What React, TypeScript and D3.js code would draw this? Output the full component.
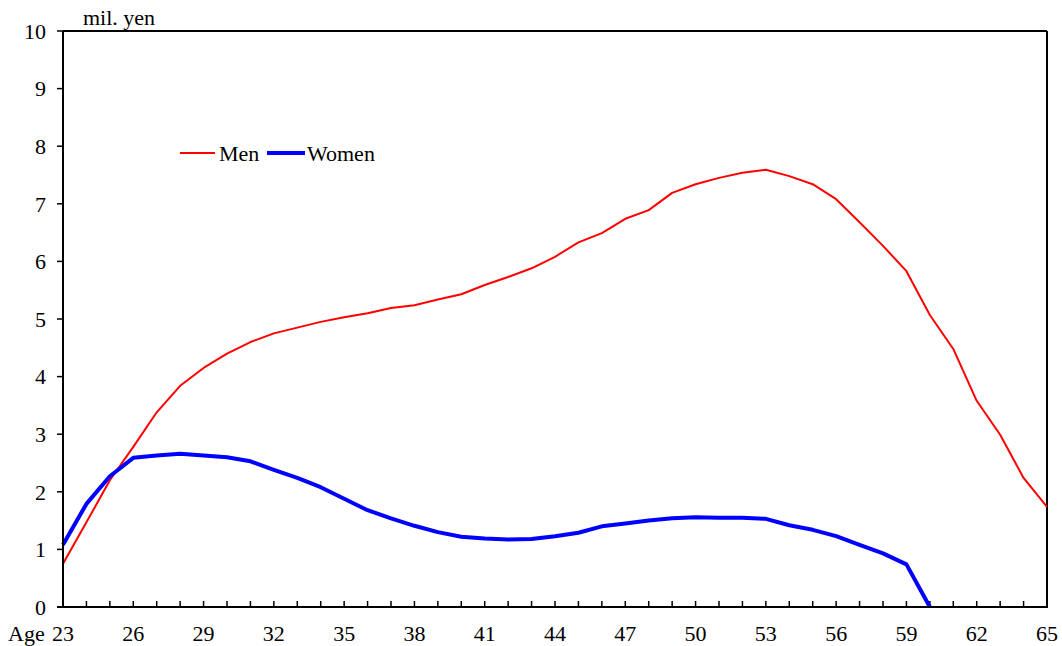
import React from "react";
import * as d3 from "d3";

const ages = d3.range(23, 66);
const menValues = [
  0.75, 1.47, 2.2, 2.78, 3.38, 3.84, 4.15, 4.4, 4.6, 4.75, 4.85, 4.95, 5.03, 5.1, 5.19, 5.24, 5.34, 5.43, 5.59,
  5.73, 5.88, 6.08, 6.33, 6.49, 6.74, 6.89, 7.19, 7.34, 7.45, 7.54, 7.59, 7.48, 7.34, 7.08, 6.68, 6.27, 5.83,
  5.07, 4.48, 3.58, 2.99, 2.24, 1.74,
];
const womenAges = d3.range(23, 61);
const womenValues = [
  1.08, 1.79, 2.27, 2.59, 2.63, 2.66, 2.63, 2.6, 2.53, 2.38, 2.24, 2.08, 1.88, 1.68, 1.54, 1.41, 1.3, 1.22, 1.19,
  1.17, 1.18, 1.23, 1.29, 1.4, 1.45, 1.5, 1.54, 1.56, 1.55, 1.55, 1.53, 1.42, 1.34, 1.23, 1.08, 0.93, 0.74, 0.0,
];
const yTicks = d3.range(0, 11);
const xLabelAges = d3.range(23, 66, 3);

const W = 1062;
const H = 646;
const M = { left: 63, right: 1047, top: 31, bottom: 607 };
const FONT = '"Liberation Serif", "Times New Roman", Times, serif';
const FS = 22;
const txt: React.CSSProperties = { fontFamily: FONT, fontSize: FS };

export default function App() {
  const x = d3.scaleLinear().domain([23, 65]).range([M.left, M.right]);
  const y = d3.scaleLinear().domain([0, 10]).range([M.bottom, M.top]);
  const line = d3
    .line<[number, number]>()
    .x((d) => x(d[0]))
    .y((d) => y(d[1]));
  const menPath = line(ages.map((a, i) => [a, menValues[i]]) as [number, number][]) || "";
  const womenPath = line(womenAges.map((a, i) => [a, womenValues[i]]) as [number, number][]) || "";

  return (
    <svg width={W} height={H} style={{ position: "absolute", left: 0, top: 0, background: "#fff" }}>
      <rect x={0} y={0} width={W} height={H} fill="#fff" />
      {/* frame */}
      <line x1={M.left} y1={M.top} x2={M.right} y2={M.top} stroke="#000" strokeWidth={2} />
      <line x1={M.right} y1={M.top} x2={M.right} y2={M.bottom} stroke="#000" strokeWidth={2} />
      {/* y ticks */}
      {yTicks.map((t) => (
        <g key={"y" + t}>
          <line x1={M.left - 6} x2={M.left} y1={y(t)} y2={y(t)} stroke="#000" strokeWidth={1.5} />
          <text x={46} y={y(t)} dy="0.35em" textAnchor="end" style={txt} fill="#000">
            {t}
          </text>
        </g>
      ))}
      {/* x ticks */}
      {ages.map((a) => (
        <line key={"x" + a} x1={x(a)} x2={x(a)} y1={M.bottom} y2={M.bottom - 6} stroke="#000" strokeWidth={1.5} />
      ))}
      {xLabelAges.map((a) => (
        <text key={"xl" + a} x={x(a)} y={641} textAnchor="middle" style={txt} fill="#000">
          {a}
        </text>
      ))}
      <text x={8} y={641} style={txt} fill="#000">
        Age
      </text>
      <text x={83} y={25} style={txt} fill="#000">
        mil. yen
      </text>
      {/* series */}
      <path d={menPath} fill="none" stroke="#ff0000" strokeWidth={2} strokeLinejoin="round" />
      <path d={womenPath} fill="none" stroke="#0000ff" strokeWidth={4} strokeLinejoin="round" />
      {/* axes */}
      <line x1={M.left} y1={M.top} x2={M.left} y2={M.bottom} stroke="#000" strokeWidth={2} />
      <line x1={M.left - 6} y1={M.bottom} x2={M.right + 1} y2={M.bottom} stroke="#000" strokeWidth={2} />
      {/* legend */}
      <line x1={180} x2={215} y1={153} y2={153} stroke="#ff0000" strokeWidth={2} />
      <text x={219} y={153} dy="0.35em" style={txt} fill="#000">
        Men
      </text>
      <line x1={267} x2={305} y1={153} y2={153} stroke="#0000ff" strokeWidth={4} />
      <text x={307} y={153} dy="0.35em" style={txt} fill="#000">
        Women
      </text>
    </svg>
  );
}
